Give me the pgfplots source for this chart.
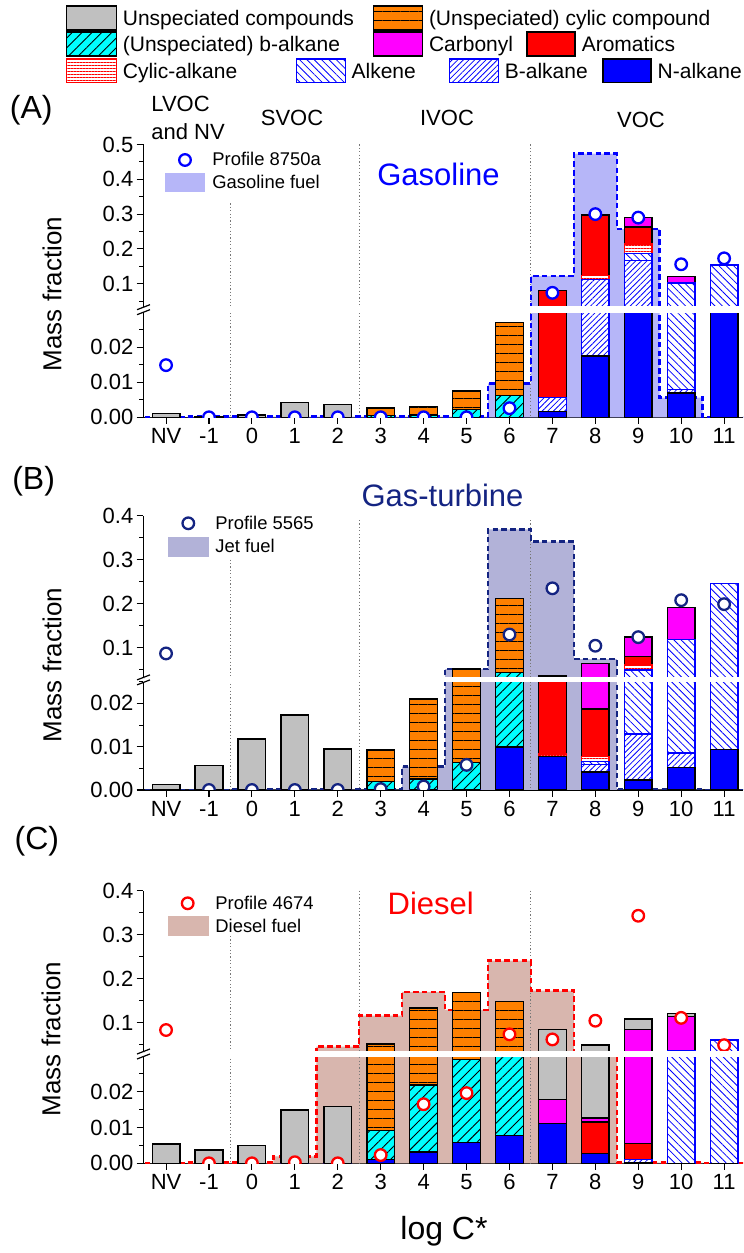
\documentclass[border=0pt]{standalone}
\usepackage{pgfplots}
\pgfplotsset{compat=1.18}
\usepackage{pgfplotstable}
\usepackage{fontspec}
\setmainfont{Liberation Sans}
\usetikzlibrary{patterns,patterns.meta}

\definecolor{ugray}{RGB}{192,192,192}
\definecolor{uorange}{RGB}{255,128,0}
\definecolor{ucyan}{RGB}{0,255,255}
\definecolor{umag}{RGB}{255,0,255}
\definecolor{ured}{RGB}{255,0,0}
\definecolor{ublue}{RGB}{0,0,255}
\definecolor{navyc}{RGB}{20,36,130}
\definecolor{gasfill}{RGB}{182,182,248}
\definecolor{jetfill}{RGB}{178,178,216}
\definecolor{dslfill}{RGB}{216,182,174}
\definecolor{dotg}{RGB}{120,120,120}

\newcommand{\tfont}{\fontsize{11}{13}\selectfont}
\newcommand{\legfont}{\fontsize{10.5}{12}\selectfont}
\newcommand{\insfont}{\fontsize{9.2}{11}\selectfont}

% cumulative tops of the stacked segments (bottom to top):
% N N-alkane, B B-alkane, A Alkene, C Cylic-alkane, R Aromatics, K Carbonyl,
% U (Unsp.) b-alkane, O (Unsp.) cylic compound, G Unspeciated; P profile
\pgfplotstableread{
x N B A C R K U O G P
0 0 0 0 0 0 0 0 0 0.0011 0.0149
1 0 0 0 0 0 0 0 0 0.0003 0
2 0 0 0 0 0 0 0 0 0.0006 0
3 0 0 0 0 0 0 0 0 0.0043 0
4 0 0 0 0 0 0 0 0 0.0036 0
5 0 0 0 0 0 0 0.0005 0.0026 0.0026 0
6 0 0 0 0 0 0 0.0006 0.0031 0.0031 0
7 0 0 0 0 0 0 0.0023 0.0075 0.0075 0
8 0 0 0 0 0 0 0.0062 0.0270 0.0270 0.0026
9 0.0016 0.0057 0.0057 0.0057 0.080 0.080 0.080 0.080 0.080 0.074
10 0.0175 0.1126 0.1126 0.124 0.297 0.297 0.297 0.297 0.297 0.300
11 0.032 0.166 0.187 0.214 0.263 0.290 0.290 0.290 0.290 0.290
12 0.0069 0.008 0.102 0.102 0.102 0.121 0.121 0.121 0.121 0.156
13 0.032 0.032 0.154 0.154 0.154 0.154 0.154 0.154 0.154 0.173
}\TA
\pgfplotstableread{
x v
-0.5 0
0.5 0.0002
1.5 0.0002
2.5 0.0002
3.5 0.0002
4.5 0.0002
5.5 0.0002
6.5 0.0002
7.5 0.0097
8.5 0.123
9.5 0.474
10.5 0.257
11.5 0.0056
12.5 0
13.5 0
}\FA

\pgfplotstableread{
x N B A C R K U O G P
0 0 0 0 0 0 0 0 0 0.0012 0.087
1 0 0 0 0 0 0 0 0 0.0056 0
2 0 0 0 0 0 0 0 0 0.0118 0
3 0 0 0 0 0 0 0 0 0.0173 0
4 0 0 0 0 0 0 0 0 0.0095 0
5 0 0 0 0 0 0 0.0019 0.0092 0.0092 0.0002
6 0 0 0 0 0 0 0.0025 0.021 0.021 0.0008
7 0 0 0 0 0 0 0.0063 0.0516 0.0516 0.0058
8 0.0099 0.0099 0.0099 0.0099 0.0099 0.0099 0.044 0.212 0.212 0.130
9 0.0077 0.0077 0.0077 0.0083 0.036 0.036 0.036 0.036 0.036 0.235
10 0.0042 0.0059 0.0066 0.0078 0.0187 0.0645 0.0645 0.0645 0.0645 0.1045
11 0.0023 0.0129 0.049 0.061 0.080 0.124 0.124 0.124 0.124 0.124
12 0.0052 0.0085 0.119 0.119 0.119 0.192 0.192 0.192 0.192 0.208
13 0.0094 0.0094 0.246 0.246 0.246 0.246 0.246 0.246 0.246 0.199
}\TB
\pgfplotstableread{
x v
-0.5 0
0.5 0
1.5 0.0001
2.5 0.0001
3.5 0.0001
4.5 0.0001
5.5 0.0054
6.5 0.0516
7.5 0.369
8.5 0.341
9.5 0.074
10.5 0.0001
11.5 0.0001
12.5 0
13.5 0
}\FB

\pgfplotstableread{
x N B A C R K U O G P
0 0 0 0 0 0 0 0 0 0.0054 0.0834
1 0 0 0 0 0 0 0 0 0.0037 0
2 0 0 0 0 0 0 0 0 0.0049 0
3 0 0 0 0 0 0 0 0 0.0149 0.0003
4 0 0 0 0 0 0 0 0 0.0158 0
5 0.0011 0.0011 0.0011 0.0011 0.0011 0.0011 0.0091 0.052 0.052 0.0023
6 0.0032 0.0032 0.0032 0.0032 0.0032 0.0032 0.0219 0.133 0.133 0.0165
7 0.0058 0.0058 0.0058 0.0058 0.0058 0.0058 0.029 0.168 0.168 0.0196
8 0.0078 0.0078 0.0078 0.0078 0.0078 0.0078 0.032 0.148 0.148 0.0736
9 0.0112 0.0112 0.0112 0.0112 0.0112 0.0179 0.0179 0.0179 0.085 0.062
10 0.0028 0.0028 0.0028 0.0028 0.0115 0.0127 0.0127 0.0127 0.049 0.1045
11 0.0003 0.0011 0.0011 0.0011 0.0056 0.085 0.085 0.085 0.108 0.343
12 0 0 0.036 0.036 0.036 0.114 0.114 0.114 0.121 0.111
13 0 0 0.0607 0.0607 0.0607 0.0607 0.0607 0.0607 0.0607 0.049
}\TC
\pgfplotstableread{
x v
-0.5 0
0.5 0.0002
1.5 0.0002
2.5 0.0019
3.5 0.0455
4.5 0.116
5.5 0.170
6.5 0.129
7.5 0.241
8.5 0.173
9.5 0.031
10.5 0.0002
11.5 0.0002
12.5 0
13.5 0
}\FC

\tikzset{
 dotl/.style={dotg, line width=0.45pt, dash pattern=on 0.6pt off 1.1pt},
 pO/.style={pattern={Lines[angle=0,distance=4.5pt,line width=0.45pt]}, pattern color=black},
 pU/.style={pattern={Lines[angle=45,distance=3.5pt,line width=0.45pt]}, pattern color=black},
 pC/.style={pattern={Lines[angle=0,distance=1.5pt,line width=0.4pt]}, pattern color=ured},
 pA/.style={pattern={Lines[angle=-45,distance=2.6pt,line width=0.4pt]}, pattern color=ublue},
 pB/.style={pattern={Lines[angle=45,distance=2pt,line width=0.4pt]}, pattern color=ublue},
}

\pgfplotsset{
 barfilter/.style={},
 lay/.style={ybar, bar width=0.645, bar shift=0pt, line width=0.7pt, barfilter},
 layG/.style={lay, fill=ugray, draw=black},
 layO/.style={lay, fill=uorange, draw=black, postaction={pO}},
 layU/.style={lay, fill=ucyan, draw=black, postaction={pU}},
 layK/.style={lay, fill=umag, draw=black},
 layR/.style={lay, fill=ured, draw=black},
 layC/.style={lay, fill=white, draw=ured, postaction={pC}},
 layA/.style={lay, fill=white, draw=ublue, postaction={pA}},
 layB/.style={lay, fill=white, draw=ublue, postaction={pB}},
 layN/.style={lay, fill=ublue, draw=black},
 fl/.style={const plot, line width=1.25pt, dash pattern=on 2.8pt off 1.6pt},
 base/.style={scale only axis, width=299.85pt, xmin=-0.53, xmax=13.44,
   anchor=south west, clip marker paths=true,
   scaled y ticks=false, scaled x ticks=false,
   axis line style={line width=0.55pt, black},
   major tick style={line width=0.55pt, black},
   minor tick style={line width=0.5pt, black},
   major tick length=3.3pt, minor tick length=2pt, tick align=outside,
   ticklabel style={font=\tfont}, yticklabel style={inner sep=1.5pt}},
 low/.style={base, ymin=0, axis x line*=bottom, axis y line*=left,
   xtick={0,...,13}, xticklabels={NV,-1,0,1,2,3,4,5,6,7,8,9,10,11},
   xticklabel style={inner sep=1pt, yshift=-1pt},
   ytick={0,0.01,0.02}, yticklabels={0.00,0.01,0.02},
   minor ytick={0.005,0.015,0.025}},
 up/.style={base, axis x line=none, axis y line*=left},
}

\newcommand{\dl}[2]{\draw[dotl] (axis cs:#1,#2) -- (axis cs:#1,0);}

\newcommand{\content}[6]{%
 \addplot[const plot, fill=#3, draw=none] table[x=x,y=v]{#2} \closedcycle;
 #6
 \addplot[fl, draw=#4] table[x=x,y=v]{#2};
 \addplot[layG] table[x=x,y=G]{#1};
 \addplot[layO] table[x=x,y=O]{#1};
 \addplot[layU] table[x=x,y=U]{#1};
 \addplot[layK] table[x=x,y=K]{#1};
 \addplot[layR] table[x=x,y=R]{#1};
 \addplot[layC] table[x=x,y=C]{#1};
 \addplot[layA] table[x=x,y=A]{#1};
 \addplot[layB] table[x=x,y=B]{#1};
 \addplot[layN] table[x=x,y=N]{#1};
 \addplot[barfilter, only marks, mark=*, mark size=2.9pt, mark options={solid, fill=white, draw=#5, line width=1.15pt}] table[x=x,y=P]{#1};
}

\begin{document}
\begin{tikzpicture}
\useasboundingbox (0,0) rectangle (372pt,626.5pt);

% ---------- Panel A ----------
\begin{axis}[low, at={(71.65pt,417.85pt)}, height=52.5pt, ymax=0.03]
\content{\TA}{\FA}{gasfill}{ublue}{ublue}{\dl{1.5}{0.331}\dl{4.5}{0.5}\dl{8.5}{0.5}}
\end{axis}
\begin{axis}[up, at={(71.65pt,472.95pt)}, height=81.3pt, ymin=0.033, ymax=0.5,
  barfilter/.style={restrict y to domain=0.033:10},
  ytick={0.1,0.2,0.3,0.4,0.5}, yticklabels={0.1,0.2,0.3,0.4,0.5},
  minor ytick={0.05,0.15,0.25,0.35,0.45}]
\content{\TA}{\FA}{gasfill}{ublue}{ublue}{\dl{1.5}{0.331}\dl{4.5}{0.5}\dl{8.5}{0.5}}
\end{axis}

% ---------- Panel B ----------
\begin{axis}[low, at={(71.65pt,231.5pt)}, height=54.15pt, ymax=0.025]
\content{\TB}{\FB}{jetfill}{navyc}{navyc}{\dl{1.5}{0.30}\dl{4.5}{0.39}\dl{8.5}{0.39}}
\end{axis}
\begin{axis}[up, at={(71.65pt,287.45pt)}, height=81.2pt, ymin=0.031, ymax=0.4,
  barfilter/.style={restrict y to domain=0.031:10},
  ytick={0.1,0.2,0.3,0.4}, yticklabels={0.1,0.2,0.3,0.4},
  minor ytick={0.05,0.15,0.25,0.35}]
\content{\TB}{\FB}{jetfill}{navyc}{navyc}{\dl{1.5}{0.30}\dl{4.5}{0.39}\dl{8.5}{0.39}}
\end{axis}

% ---------- Panel C ----------
\begin{axis}[low, at={(71.65pt,44.85pt)}, height=53.7pt, ymax=0.03]
\content{\TC}{\FC}{dslfill}{ured}{ured}{\dl{1.5}{0.297}\dl{4.5}{0.4}\dl{8.5}{0.4}}
\end{axis}
\begin{axis}[up, at={(71.65pt,100.4pt)}, height=80.75pt, ymin=0.033, ymax=0.4,
  barfilter/.style={restrict y to domain=0.033:10},
  ytick={0.1,0.2,0.3,0.4}, yticklabels={0.1,0.2,0.3,0.4},
  minor ytick={0.05,0.15,0.25,0.35}]
\content{\TC}{\FC}{dslfill}{ured}{ured}{\dl{1.5}{0.297}\dl{4.5}{0.4}\dl{8.5}{0.4}}
\end{axis}

% ---------- annotations (pixel coordinates of the reference) ----------
\begin{scope}[x=0.5pt, y=-0.5pt, shift={(0pt,626.5pt)}]
 % white break bands
 \fill[white] (144.5,306.3) rectangle (744,313.1);
 \fill[white] (144.5,677.3) rectangle (744,682.5);
 \fill[white] (144.5,1051.4) rectangle (744,1056.7);

 % top legend
 \draw[fill=ugray, line width=0.8pt] (66.4,6) rectangle (116.3,30);
 \node[anchor=base west, inner sep=0, font=\legfont] at (122.5,25.3) {Unspeciated compounds};
 \draw[fill=uorange, postaction={pO}, line width=0.8pt] (373.5,6) rectangle (422.4,30);
 \node[anchor=base west, inner sep=0, font=\legfont] at (428.6,25.3) {(Unspeciated) cylic compound};
 \draw[fill=ucyan, postaction={pU}, line width=0.8pt] (66.4,32.3) rectangle (116.3,56);
 \node[anchor=base west, inner sep=0, font=\legfont] at (122.5,51.5) {(Unspeciated) b-alkane};
 \draw[fill=umag, line width=0.8pt] (373.5,32.3) rectangle (422.4,56);
 \node[anchor=base west, inner sep=0, font=\legfont] at (428.6,51.5) {Carbonyl};
 \draw[fill=ured, line width=0.8pt] (526.8,32.3) rectangle (575.2,56);
 \node[anchor=base west, inner sep=0, font=\legfont] at (581.4,51.5) {Aromatics};
 \draw[ured, fill=white, postaction={pC}, line width=0.8pt] (66.4,59.3) rectangle (116.3,82.7);
 \node[anchor=base west, inner sep=0, font=\legfont] at (122.5,78.3) {Cylic-alkane};
 \draw[ublue, fill=white, postaction={pA}, line width=0.8pt] (296.6,59.3) rectangle (345.5,82.7);
 \node[anchor=base west, inner sep=0, font=\legfont] at (351.2,78.3) {Alkene};
 \draw[ublue, fill=white, postaction={pB}, line width=0.8pt] (449.5,59.3) rectangle (498.3,82.7);
 \node[anchor=base west, inner sep=0, font=\legfont] at (504.5,78.3) {B-alkane};
 \draw[fill=ublue, line width=0.8pt] (602.7,59.3) rectangle (651.2,82.7);
 \node[anchor=base west, inner sep=0, font=\legfont] at (657.3,78.3) {N-alkane};

 % panel letters
 \node[anchor=west, inner sep=0, font=\fontsize{16}{18}\selectfont] at (9.5,110) {(A)};
 \node[anchor=west, inner sep=0, font=\fontsize{16}{18}\selectfont] at (11.9,481.7) {(B)};
 \node[anchor=west, inner sep=0, font=\fontsize{16}{18}\selectfont] at (14.2,840.8) {(C)};

 % volatility class labels
 \node[anchor=base west, inner sep=0, font=\tfont] at (151,111.7) {LVOC};
 \node[anchor=base west, inner sep=0, font=\tfont] at (151,139.3) {and NV};
 \node[anchor=base, inner sep=0, font=\tfont] at (292,125.7) {SVOC};
 \node[anchor=base, inner sep=0, font=\tfont] at (447,125.7) {IVOC};
 \node[anchor=base, inner sep=0, font=\tfont] at (641,128) {VOC};

 % titles
 \node[anchor=base, inner sep=0, text=ublue, font=\fontsize{15.5}{18}\selectfont] at (438.5,186) {Gasoline};
 \node[anchor=base, inner sep=0, text=navyc, font=\fontsize{15.5}{18}\selectfont] at (442.5,506.7) {Gas-turbine};
 \node[anchor=base, inner sep=0, text=ured, font=\fontsize{15.5}{18}\selectfont] at (430.7,914.3) {Diesel};

 % inset legends
 \draw[ublue, line width=1.15pt, fill=white] (185,160) circle (2.9pt);
 \node[anchor=base west, inner sep=0, font=\insfont] at (212,166) {Profile 8750a};
 \fill[gasfill] (165,172.7) rectangle (205,191.7);
 \node[anchor=base west, inner sep=0, font=\insfont] at (212,188.3) {Gasoline fuel};

 \draw[navyc, line width=1.15pt, fill=white] (188.3,523.3) circle (2.9pt);
 \node[anchor=base west, inner sep=0, font=\insfont] at (215,529.8) {Profile 5565};
 \fill[jetfill] (168.3,536.7) rectangle (209,556.7);
 \node[anchor=base west, inner sep=0, font=\insfont] at (215,553) {Jet fuel};

 \draw[ured, line width=1.15pt, fill=white] (187.7,903.3) circle (2.9pt);
 \node[anchor=base west, inner sep=0, font=\insfont] at (215,909.8) {Profile 4674};
 \fill[dslfill] (168.3,915.7) rectangle (209,935.7);
 \node[anchor=base west, inner sep=0, font=\insfont] at (215,932.3) {Diesel fuel};

 % axis titles
 \node[rotate=90, font=\fontsize{13}{15}\selectfont] at (52,294) {Mass fraction};
 \node[rotate=90, font=\fontsize{13}{15}\selectfont] at (52,665) {Mass fraction};
 \node[rotate=90, font=\fontsize{13}{15}\selectfont] at (51,1039) {Mass fraction};
 \node[anchor=base, inner sep=0, font=\fontsize{16}{18}\selectfont] at (444,1240) {log C*};

 % axis break marks
 \foreach \yc in {309.7,679.9,1054} {
   \draw[line width=0.6pt] (137,\yc) -- (150,\yc-5);
   \draw[line width=0.6pt] (137,\yc+5) -- (150,\yc);
 }
\end{scope}
\end{tikzpicture}
\end{document}
